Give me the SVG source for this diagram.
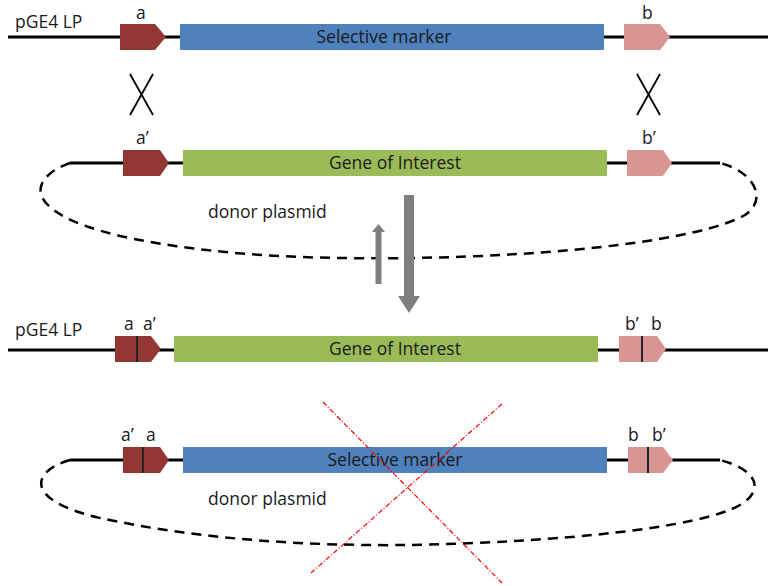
<svg xmlns="http://www.w3.org/2000/svg" width="768" height="586" viewBox="0 0 768 586">
<style>
text{font-family:"Open Sans","Liberation Sans",sans-serif;fill:#1a1a1a}
.lbl{font-size:17.5px}
.box{font-size:17.5px;text-anchor:middle}
.bb{stroke:#000;stroke-width:3;fill:none}
.dash{stroke:#000;stroke-width:2.5;fill:none;stroke-dasharray:10 7}
.red{fill:#943634}
.pink{fill:#d99594}
.blue{fill:#4f81bd}
.green{fill:#9bbb59}
.div{stroke:#222;stroke-width:2}
.arr{fill:#7f7f7f}
.xm{stroke:#000;stroke-width:1.8;fill:none}
.cross{stroke:#ff0000;stroke-width:1.2;stroke-dasharray:5 2 1 2;fill:none}
</style>
<g id="connectors">
<line class="bb" x1="8" y1="37" x2="768" y2="37"/>
<line class="bb" x1="70" y1="163" x2="720" y2="163"/>
<path class="dash" d="M70,163 C28,178 20,212 120,236 C220,258 330,259 410,258 C560,256 700,240 745,215 C768,200 755,172 720,163"/>
<line class="bb" x1="8" y1="350" x2="768" y2="350"/>
<line class="bb" x1="70" y1="460" x2="720" y2="460"/>
<path class="dash" d="M70,460 C28,472 22,505 120,522 C220,542 330,546 410,545 C560,542 700,528 740,505 C765,490 758,470 720,460"/>
<path class="xm" d="M130,74 L153,115 M153,74 L130,115"/>
<path class="xm" d="M637,74 L660,115 M660,74 L637,115"/>
<path class="arr" d="M375.5,284 L375.5,232 L372,232 L378.5,224 L385,232 L381.5,232 L381.5,284 Z"/>
<path class="arr" d="M404,195 L414,195 L414,296 L420,296 L409,313 L398,296 L404,296 Z"/>
</g>
<g id="row1">
<text class="lbl" x="15" y="28">pGE4 LP</text>
<g id="a1"><path class="red" d="M120,24 L155,24 L166,37 L155,50 L120,50 Z"/><text class="lbl" x="136" y="18.5">a</text></g>
<g id="sm1"><rect class="blue" x="180" y="24" width="424" height="26"/><text class="box" x="384" y="43">Selective marker</text></g>
<g id="b1"><path class="pink" d="M624,24 L660,24 L670,37 L660,50 L624,50 Z"/><text class="lbl" x="642" y="18.5">b</text></g>
</g>
<g id="row2">
<g id="a2"><path class="red" d="M123,150 L160,150 L169,163 L160,176 L123,176 Z"/><text class="lbl" x="136" y="144">a’</text></g>
<g id="goi2"><rect class="green" x="183" y="150" width="424" height="26"/><text class="box" x="395" y="169">Gene of Interest</text></g>
<g id="b2"><path class="pink" d="M627,150 L663,150 L672,163 L663,176 L627,176 Z"/><text class="lbl" x="642" y="144">b’</text></g>
<text class="lbl" x="208" y="218">donor plasmid</text>
</g>
<g id="row3">
<text class="lbl" x="15" y="336">pGE4 LP</text>
<g id="aa3"><path class="red" d="M115,336 L151,336 L161,349 L151,362 L115,362 Z"/><line class="div" x1="137" y1="336" x2="137" y2="362"/><text class="lbl" x="124" y="330">a</text><text class="lbl" x="143" y="330">a’</text></g>
<g id="goi3"><rect class="green" x="174" y="336" width="424" height="26"/><text class="box" x="395" y="355">Gene of Interest</text></g>
<g id="bb3"><path class="pink" d="M619,336 L657,336 L666,349 L657,362 L619,362 Z"/><line class="div" x1="642" y1="336" x2="642" y2="362"/><text class="lbl" x="625" y="330">b’</text><text class="lbl" x="651" y="330">b</text></g>
</g>
<g id="row4">
<g id="aa4"><path class="red" d="M123,447 L160,447 L169,460 L160,473 L123,473 Z"/><line class="div" x1="143" y1="447" x2="143" y2="473"/><text class="lbl" x="121" y="441">a’</text><text class="lbl" x="146" y="441">a</text></g>
<g id="sm4"><rect class="blue" x="183" y="447" width="424" height="26"/><text class="box" x="395" y="466">Selective marker</text></g>
<g id="bb4"><path class="pink" d="M628,447 L663,447 L673,460 L663,473 L628,473 Z"/><line class="div" x1="648" y1="447" x2="648" y2="473"/><text class="lbl" x="628" y="441">b</text><text class="lbl" x="652" y="441">b’</text></g>
<text class="lbl" x="208" y="505">donor plasmid</text>
<path class="cross" d="M323,402 L502,583 M502,404 L311,573"/>
</g>
</svg>
